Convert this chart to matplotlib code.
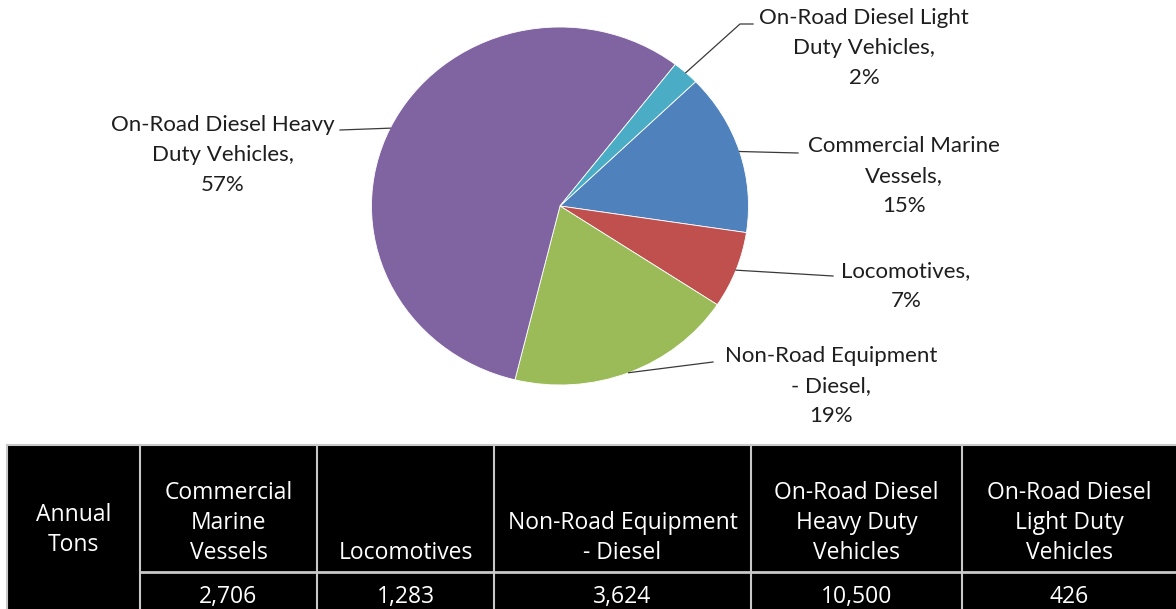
import numpy as np
import matplotlib
matplotlib.use("Agg")
import matplotlib.pyplot as plt
from matplotlib.patches import Rectangle

# data
categories = ["Commercial Marine Vessels", "Locomotives", "Non-Road Equipment - Diesel",
              "On-Road Diesel Heavy Duty Vehicles", "On-Road Diesel Light Duty Vehicles"]
tons = [2706, 1283, 3624, 10500, 426]
pct_shown = [15, 7, 19, 57, 2]   # percentages as printed on the chart
colors = ["#4F81BD", "#C0504D", "#9BBB59", "#8064A2", "#4BACC6"]

# wrapped names as shown on the pie labels and table header
pie_names = ["Commercial Marine\nVessels,", "Locomotives,", "Non-Road Equipment\n- Diesel,",
             "On-Road Diesel Heavy\nDuty Vehicles,", "On-Road Diesel Light\nDuty Vehicles,"]
table_heads = ["Commercial\nMarine\nVessels", "Locomotives", "Non-Road Equipment\n- Diesel",
               "On-Road Diesel\nHeavy Duty\nVehicles", "On-Road Diesel\nLight Duty\nVehicles"]
row_label = "Annual\nTons"

W, H = 1176, 609
plt.rcParams['font.family'] = ['Lato', 'DejaVu Sans']
fig = plt.figure(figsize=(W / 100, H / 100), dpi=100)

# pie (slightly wider than tall, like the original)
cx, cy, rx, ry = 560, 206, 188.5, 179
start = 44
pax = fig.add_axes([(cx - rx) / W, 1 - (cy + ry) / H, 2 * rx / W, 2 * ry / H])
wedges, _ = pax.pie(tons, colors=colors, startangle=start, counterclock=False,
                    wedgeprops=dict(edgecolor="white", linewidth=0.6))
pax.set_aspect("auto")
pax.set_xlim(-1, 1)
pax.set_ylim(-1, 1)

ov = fig.add_axes([0, 0, 1, 1])
ov.set_xlim(0, W)
ov.set_ylim(H, 0)
ov.axis("off")
ov.patch.set_alpha(0)

# label layout: (text centre x, first line y, elbow x, elbow y, end x)
label_pos = [
    (904, 146, 798, 153, 798),
    (906, 271, 833, 276, 833),
    (831, 356, 713, 362, 713),
    (223, 125, 340, 130, 340),
    (864, 18, 740, 24, 753),
]

total = sum(tons)
ang = start
for i, v in enumerate(tons):
    span = 360.0 * v / total
    mid = np.radians(ang - span / 2)
    ang -= span
    px, py = cx + rx * np.cos(mid), cy - ry * np.sin(mid)
    tx, ty, ex, ey, endx = label_pos[i]
    ov.plot([px, ex, endx], [py, ey, ey], color="#3a3a3a", lw=0.9)
    lines = pie_names[i].split("\n") + ["%d%%" % pct_shown[i]]
    for k, s in enumerate(lines):
        ov.text(tx, ty + 30 * k, s, ha="center", va="center", fontsize=16, color="#1e1e1e")

# table
col_x = [7, 140, 317, 494, 751, 962, W]
top, sep, bot = 445, 572, 620
grid = "#c8c8c8"
ov.add_patch(Rectangle((col_x[0], top), W - col_x[0], bot - top, facecolor="black", edgecolor="none"))
ov.plot([col_x[0], W], [top, top], color=grid, lw=1.5)
ov.plot([col_x[0], col_x[0]], [top, bot], color=grid, lw=1.5)
for x in col_x[1:-1]:
    ov.plot([x, x], [top, bot], color=grid, lw=1.5)
ov.plot([col_x[1], W], [sep, sep], color=grid, lw=2)

tfont = dict(ha="center", va="center", fontsize=16.5, color="white", family=["Open Sans", "DejaVu Sans"])
for k, s in enumerate(row_label.split("\n")):
    ov.text((col_x[0] + col_x[1]) / 2, 515 + 30 * k, s, **tfont)
for i, head in enumerate(table_heads):
    xc = (col_x[i + 1] + col_x[i + 2]) / 2
    parts = head.split("\n")
    for k, s in enumerate(parts):
        ov.text(xc, 553 - 30 * (len(parts) - 1 - k), s, **tfont)
    ov.text(xc, 597, "{:,}".format(tons[i]), **tfont)

fig.savefig("out.png", dpi=100, facecolor="white")
